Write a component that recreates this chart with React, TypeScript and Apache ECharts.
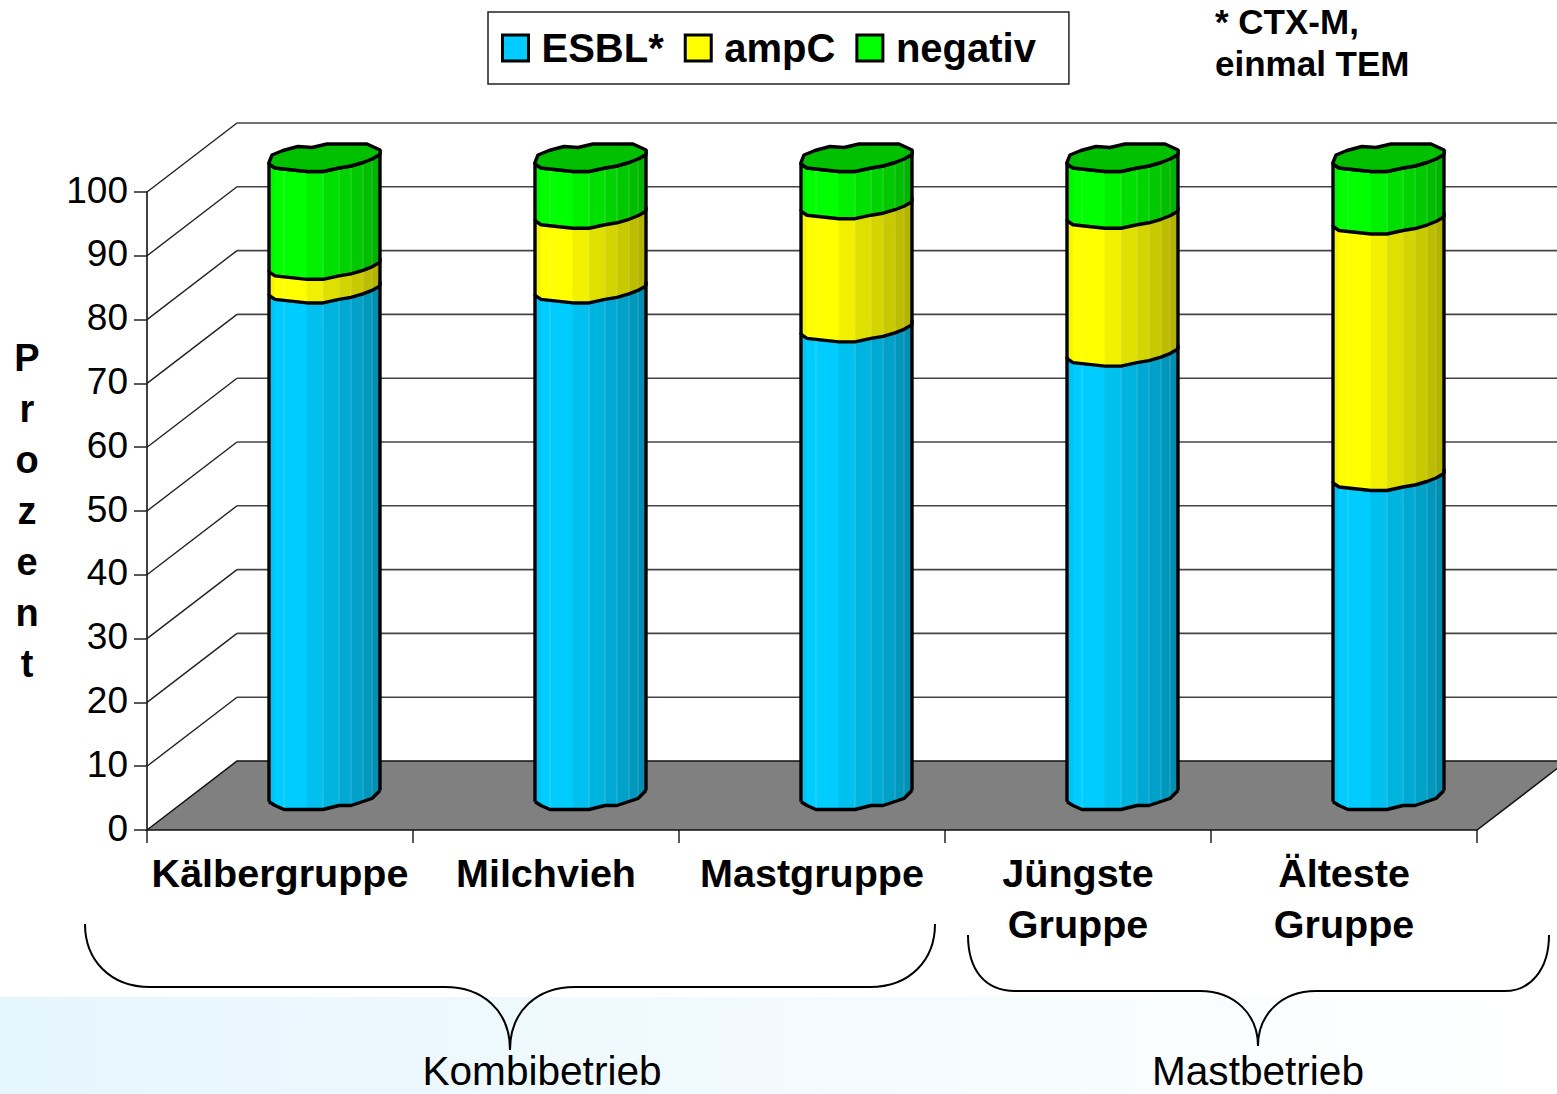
import React, { useEffect, useRef } from "react";
import * as echarts from "echarts";

const categories = ["Kälbergruppe", "Milchvieh", "Mastgruppe", "Jüngste\nGruppe", "Älteste\nGruppe"];
const seriesNames = ["ESBL*", "ampC", "negativ"];
const esbl = [79.4, 79.4, 73.3, 69.5, 50];
const ampC = [3.7, 11.7, 19.3, 21.6, 40.2];
const negativ = [16.9, 8.9, 7.4, 8.9, 9.8];
const yTicks = [0, 10, 20, 30, 40, 50, 60, 70, 80, 90, 100];

const FONT = "'Liberation Sans', Arial, sans-serif";
const DX = 90;
const DY = 69;
const stripX = [-56, -50, -41, -18, -2, 14, 26, 38, 47, 55];
const topFront = [6.5, 10.5, 11.5, 14, 14, 10.5, 8.5, 5, 1.5, -3];
const baseFront = [6.2, 10, 14, 14, 14, 10, 10, 6, 3, -5];
const capBack: number[][] = [[55, -7.5], [42, -13.5], [2, -13.5], [-13, -10], [-27, -11], [-42, -7], [-53, -2.5], [-56, 5]];
const shade = [0.96, 1, 1, 0.94, 0.88, 0.83, 0.79, 0.74, 0.7];
const seams = [2, 4, 5, 6, 7, 8];
const palette: number[][] = [[0, 204, 255], [255, 255, 0], [0, 255, 0]];
const paletteCss = ["#00ccff", "#ffff00", "#00ff00"];
const capColor = "#00c000";

const bracketA = "M85 924 C85 960 110 987 150 987 L445 987 C482 987 510 1010 510 1050 C510 1010 538 987 575 987 L870 987 C910 987 935 960 935 924";
const bracketB = "M968 935 C968 970 985 991 1015 991 L1200 991 C1235 991 1258 1015 1258 1046 C1258 1015 1281 991 1316 991 L1505 991 C1530 991 1549 970 1549 935";

function colorAt(c: number[], f: number) {
  return `rgb(${Math.round(c[0] * f)},${Math.round(c[1] * f)},${Math.round(c[2] * f)})`;
}

function segmentSeries(layer: number) {
  const lower = [0, 1, 2].map((l) => (l === 0 ? esbl : l === 1 ? ampC : negativ));
  const data = categories.map((_, i) => {
    let start = 0;
    for (let l = 0; l < layer; l++) start += lower[l][i];
    return [i, start, start + lower[layer][i]];
  });
  return {
    type: "custom",
    name: seriesNames[layer],
    silent: true,
    itemStyle: { color: paletteCss[layer] },
    encode: { x: 0, y: [1, 2] },
    data,
    renderItem: (_p: any, api: any) => {
      const i = api.value(0);
      const pBot = api.coord([i, api.value(1)]);
      const pTop = api.coord([i, api.value(2)]);
      const cx = pBot[0] + DX / 2;
      const yBot = pBot[1] - DY / 2;
      const yTop = pTop[1] - DY / 2;
      const bottomCurve = layer === 0 ? baseFront : topFront;
      const children: any[] = [];
      for (let s = 0; s < stripX.length - 1; s++) {
        children.push({
          type: "polygon",
          shape: {
            points: [
              [cx + stripX[s], yTop + topFront[s]],
              [cx + stripX[s + 1], yTop + topFront[s + 1]],
              [cx + stripX[s + 1], yBot + bottomCurve[s + 1]],
              [cx + stripX[s], yBot + bottomCurve[s]],
            ],
          },
          style: { fill: colorAt(palette[layer], shade[s]), stroke: colorAt(palette[layer], shade[s]), lineWidth: 0.6 },
        });
      }
      seams.forEach((s) => {
        children.push({
          type: "line",
          shape: { x1: cx + stripX[s], y1: yTop + topFront[s], x2: cx + stripX[s], y2: yBot + bottomCurve[s] },
          style: { stroke: "rgba(255,255,255,0.22)", lineWidth: 1 },
        });
      });
      const outline = { stroke: "#000", lineWidth: 3.4, fill: "none", lineJoin: "round" };
      children.push({
        type: "polyline",
        shape: { points: stripX.map((x, s) => [cx + x, yTop + topFront[s]]) },
        style: outline,
      });
      children.push({ type: "line", shape: { x1: cx - 56, y1: yTop + 5, x2: cx - 56, y2: yBot + bottomCurve[0] }, style: outline });
      children.push({ type: "line", shape: { x1: cx + 55, y1: yTop - 7.5, x2: cx + 55, y2: yBot + bottomCurve[bottomCurve.length - 1] }, style: outline });
      if (layer === 0) {
        children.push({
          type: "polyline",
          shape: { points: stripX.map((x, s) => [cx + x, yBot + baseFront[s]]) },
          style: outline,
        });
      }
      if (layer === 2) {
        const pts = stripX.map((x, s) => [cx + x, yTop + topFront[s]]).concat(capBack.map((b) => [cx + b[0], yTop + b[1]]));
        children.push({ type: "polygon", shape: { points: pts }, style: { fill: capColor, stroke: "#000", lineWidth: 3.4, lineJoin: "round" } });
      }
      return { type: "group", children };
    },
  };
}

function wallSeries() {
  return {
    type: "custom",
    name: "wall",
    silent: true,
    data: yTicks.map((v) => [0, v]),
    encode: { x: 0, y: 1 },
    renderItem: (params: any, api: any) => {
      const sys = params.coordSys;
      const y = api.coord([0, api.value(1)])[1];
      const x0 = sys.x;
      const x1 = sys.x + sys.width;
      const children: any[] = [];
      if (api.value(1) === 0) {
        children.push({
          type: "polygon",
          shape: { points: [[x0, y], [x0 + DX, y - DY], [x1 + DX, y - DY], [x1, y]] },
          style: { fill: "#808080", stroke: "#111", lineWidth: 1.5 },
        });
      } else {
        children.push({ type: "line", shape: { x1: x0, y1: y, x2: x0 + DX, y2: y - DY }, style: { stroke: "#222", lineWidth: 1.4 } });
        children.push({ type: "line", shape: { x1: x0 + DX, y1: y - DY, x2: x1 + DX, y2: y - DY }, style: { stroke: "#444", lineWidth: 1.6 } });
      }
      return { type: "group", children };
    },
  };
}

echarts.graphic.registerShape("bracketA", echarts.graphic.extendPath(bracketA, {}) as any);
echarts.graphic.registerShape("bracketB", echarts.graphic.extendPath(bracketB, {}) as any);

export default function App() {
  const ref = useRef<HTMLDivElement>(null);
  useEffect(() => {
    document.body.style.margin = "0";
    const chart = echarts.init(ref.current!, undefined, { renderer: "svg" });
    chart.setOption({
      animation: false,
      backgroundColor: "#fff",
      grid: { left: 147, right: 80, top: 192, bottom: 264 },
      legend: {
        left: 488,
        top: 12,
        data: seriesNames,
        orient: "horizontal",
        icon: "rect",
        itemWidth: 26,
        itemHeight: 26,
        itemGap: 20,
        padding: [14, 33, 14, 13],
        borderColor: "#222",
        borderWidth: 1.5,
        backgroundColor: "#fff",
        selectedMode: false,
        itemStyle: { borderColor: "#000", borderWidth: 3 },
        textStyle: { fontFamily: FONT, fontWeight: "bold", fontSize: 40, color: "#000", padding: [0, 0, 0, 8], lineHeight: 44 },
      },
      xAxis: {
        type: "category",
        data: categories,
        boundaryGap: true,
        axisLine: { show: false },
        axisTick: { show: true, alignWithLabel: false, length: 13, lineStyle: { color: "#222", width: 1.5 } },
        axisLabel: { fontFamily: FONT, fontWeight: "bold", fontSize: 39.5, color: "#000", margin: 17, lineHeight: 51, interval: 0 },
      },
      yAxis: {
        type: "value",
        min: 0,
        max: 100,
        interval: 10,
        name: "P\nr\no\nz\ne\nn\nt",
        nameLocation: "middle",
        nameRotate: 0,
        nameGap: 120,
        nameTextStyle: { fontFamily: FONT, fontWeight: "bold", fontSize: 38, color: "#000", lineHeight: 51, align: "center" },
        axisLine: { show: true, lineStyle: { color: "#000", width: 1.5 } },
        axisTick: { show: true, length: 13, lineStyle: { color: "#222", width: 1.5 } },
        axisLabel: {
          margin: 19,
          formatter: "{v|{value}}",
          rich: { v: { fontFamily: FONT, fontSize: 37, color: "#000", padding: [0, 0, 4, 0] } },
        },
        splitLine: { show: false },
      },
      series: [wallSeries(), segmentSeries(2), segmentSeries(1), segmentSeries(0)],
      graphic: [
        {
          type: "rect",
          z: -10,
          shape: { x: 0, y: 997, width: 1557, height: 97 },
          style: {
            fill: new echarts.graphic.LinearGradient(0, 0, 1, 0, [
              { offset: 0, color: "#e6f6fe" },
              { offset: 1, color: "#ffffff" },
            ]),
          },
        },
        { type: "bracketA", z: 5, style: { fill: "none", stroke: "#000", lineWidth: 2 } },
        { type: "bracketB", z: 5, style: { fill: "none", stroke: "#000", lineWidth: 2 } },
        { type: "text", x: 542, y: 1071, z: 6, style: { text: "Kombibetrieb", fontFamily: FONT, fontSize: 40.6, fill: "#000", textAlign: "center", textVerticalAlign: "middle" } },
        { type: "text", x: 1258, y: 1071, z: 6, style: { text: "Mastbetrieb", fontFamily: FONT, fontSize: 40.6, fill: "#000", textAlign: "center", textVerticalAlign: "middle" } },
        { type: "text", x: 1215, y: 0, z: 6, style: { text: "* CTX-M,\neinmal TEM", fontFamily: FONT, fontWeight: "bold", fontSize: 35, lineHeight: 42, fill: "#000" } },
      ],
    });
    return () => chart.dispose();
  }, []);
  return <div ref={ref} style={{ position: "fixed", left: 0, top: 0, width: 1557, height: 1094 }} />;
}
